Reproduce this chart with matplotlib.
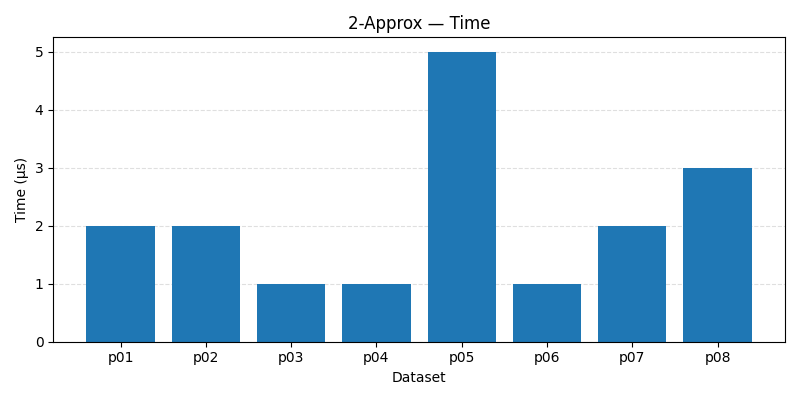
import matplotlib
matplotlib.use("Agg")
import matplotlib.pyplot as plt

datasets = ["p01", "p02", "p03", "p04", "p05", "p06", "p07", "p08"]
times_us = [2, 2, 1, 1, 5, 1, 2, 3]

fig, ax = plt.subplots(figsize=(8, 4), dpi=100)
ax.bar(datasets, times_us, color="#1f77b4")
ax.set_title("2-Approx — Time")
ax.set_xlabel("Dataset")
ax.set_ylabel("Time (µs)")
ax.grid(axis="y", linestyle="--", alpha=0.4)
ax.set_axisbelow(True)
fig.tight_layout()
fig.savefig("out.png")
